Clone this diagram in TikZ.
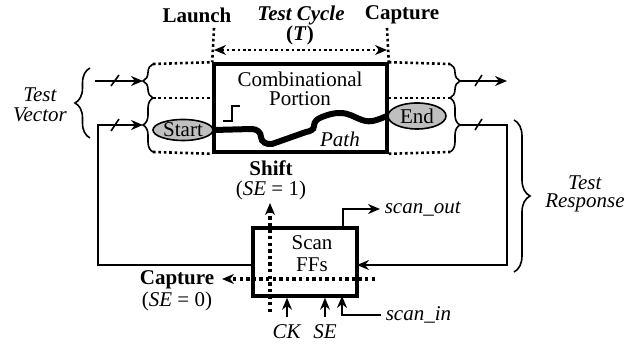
\documentclass[tikz,border=0pt]{standalone}
\usepackage{fontspec}
\setmainfont{Liberation Serif}
\usepackage{tikz}
\usetikzlibrary{positioning}
\usetikzlibrary{arrows.meta}
\usetikzlibrary{shapes.geometric}
\usetikzlibrary{decorations.pathreplacing}

\begin{document}
\fontsize{10.5}{10}\selectfont
\begin{tikzpicture}[x=0.5pt, y=-0.5pt, >={Stealth[length=6pt,width=5pt]}, line width=0.8pt,
    dots/.style={line width=1.3pt, dash pattern=on 1.3pt off 1.4pt},
    bigdots/.style={line width=1.7pt, dash pattern=on 1.7pt off 1.6pt},
    block/.style={draw, line width=1.8pt, inner sep=0pt},
    pin/.style={draw, ellipse, fill=gray!50, inner sep=0pt, line width=0.8pt},
    curly/.style={decorate, decoration={brace, amplitude=#1}},
    tag/.style={inner sep=2pt, anchor=west}]
    \useasboundingbox (0,0) rectangle (634,346);

    % top labels
    \node (launch) at (197,15) {\textbf{Launch}};
    \node (cycle) at (301,15) {\textbf{\textit{Test Cycle}}};
    \node (period) at (300,35) {\textbf{(\textit{T})}};
    \node (capt) at (402,15) {\textbf{Capture}};

    % combinational portion
    \node[block, minimum width=86.5pt, minimum height=44pt] (comb) at (300.5,108) {};
    \node[align=center, inner sep=1pt] (combtext) at (300,89) {Combinational\\[-0.5pt]Portion};
    \node[pin, minimum width=30pt, minimum height=10.5pt] (start) at (183,130) {Start};
    \node[pin, minimum width=29pt, minimum height=13pt] (end) at (417,116) {End};
    \node (pathtext) at (340,139) {\textit{Path}};
    \draw (223,121) -| (232,106) -- (240,106);
    \draw[line width=3pt] (start.east) -- (252,129) to[out=0,in=90] (261,137)
        to[out=-90,in=190] (272,144) -- (306,132) to[out=10,in=-90] (314,126)
        to[out=90,in=200] (322,117) to[out=20,in=180] (340,113)
        to[out=0,in=160] (362,120) to[out=-20,in=200] (end.west);

    % test cycle
    \coordinate (ltop) at (214,28);
    \coordinate (rtop) at (387,28);
    \coordinate (cyl) at (214,50);
    \coordinate (cyr) at (387,50);
    \draw[dots] (ltop) -- (comb.north west);
    \draw[dots] (rtop) -- (comb.north east);
    \draw[dots, <->] (cyl) -- (cyr);

    % inputs
    \coordinate (lb1) at (153,64);
    \coordinate (lb2) at (153,98);
    \coordinate (lb3) at (153,152);
    \draw[dots] (lb1) -- (comb.north west);
    \draw[dots] (lb2) -- (comb.west |- lb2);
    \draw[dots] (lb3) -- (comb.south west);
    \draw[curly=5pt] (lb2) -- (lb1);
    \draw[curly=5pt] (lb3) -- (lb2);
    \coordinate (vin1) at (143,81);
    \coordinate (vin2) at (143,125);
    \coordinate (tv1) at (95,81);
    \draw[->] (tv1) -- (vin1);
    \draw (111,86) -- (119,75);
    \draw (111,131) -- (119,119);
    \draw[curly=7.5pt] (90,138) -- (90,68);
    \node[align=center] (tvec) at (40,105) {\textit{Test}\\\textit{Vector}};

    % outputs
    \coordinate (rb1) at (450,64);
    \coordinate (rb2) at (450,98);
    \coordinate (rb3) at (450,152);
    \draw[dots] (comb.north east) -- (rb1);
    \draw[dots] (comb.east |- rb2) -- (rb2);
    \draw[dots] (comb.south east) -- (rb3);
    \draw[curly=5pt] (rb1) -- (rb2);
    \draw[curly=5pt] (rb2) -- (rb3);
    \coordinate (vout1) at (460,81);
    \coordinate (vout2) at (460,125);
    \coordinate (po1) at (507,81);
    \coordinate (rc) at (507,125);
    \draw[->] (vout1) -- (po1);
    \draw (475,86) -- (482,75);
    \draw (475,130) -- (482,119);
    \draw[curly=8pt] (514,120) -- (514,272);
    \node[align=center] (tresp) at (585,194) {\textit{Test}\\[-1pt]\textit{Response}};

    % scan flip-flops
    \node[block, minimum width=52pt, minimum height=34pt] (ff) at (305,262) {};
    \node[align=center] (fftext) at (312,254) {Scan\\[1pt]FFs};
    \coordinate (ffl) at (253,265);
    \coordinate (ffr) at (357,265);
    \coordinate (fbc) at (98,125);
    \draw[->] (ffl) -| (fbc) -- (vin2);
    \draw[->] (vout2) -- (rc) |- (ffr);

    % shift and capture
    \node[align=center] (shift) at (271,180) {\textbf{Shift}\\(\textit{SE} = 1)};
    \node[align=center] (capb) at (177,291) {\textbf{Capture}\\[1pt](\textit{SE} = 0)};
    \coordinate (shb) at (270,312);
    \coordinate (sht) at (270,203);
    \coordinate (cpr) at (375,279);
    \coordinate (cpl) at (222,279);
    \draw[bigdots, ->] (shb) -- (sht);
    \draw[bigdots, ->] (cpr) -- (cpl);

    % scan pins
    \node[tag] (sout) at (380,209) {\textit{scan\_out}};
    \node[tag] (sin) at (381,315) {\textit{scan\_in}};
    \coordinate (sop) at (343,228);
    \coordinate (sinp) at (342,296);
    \draw[->] (sop) |- (sout.west);
    \draw[->] (sin.west) -| (sinp);
    \node (ck) at (287,332) {\textit{CK}};
    \node (se) at (325,332) {\textit{SE}};
    \draw[->] (ck) -- (ck |- ff.south);
    \draw[->] (se) -- (se |- ff.south);
\end{tikzpicture}
\end{document}
